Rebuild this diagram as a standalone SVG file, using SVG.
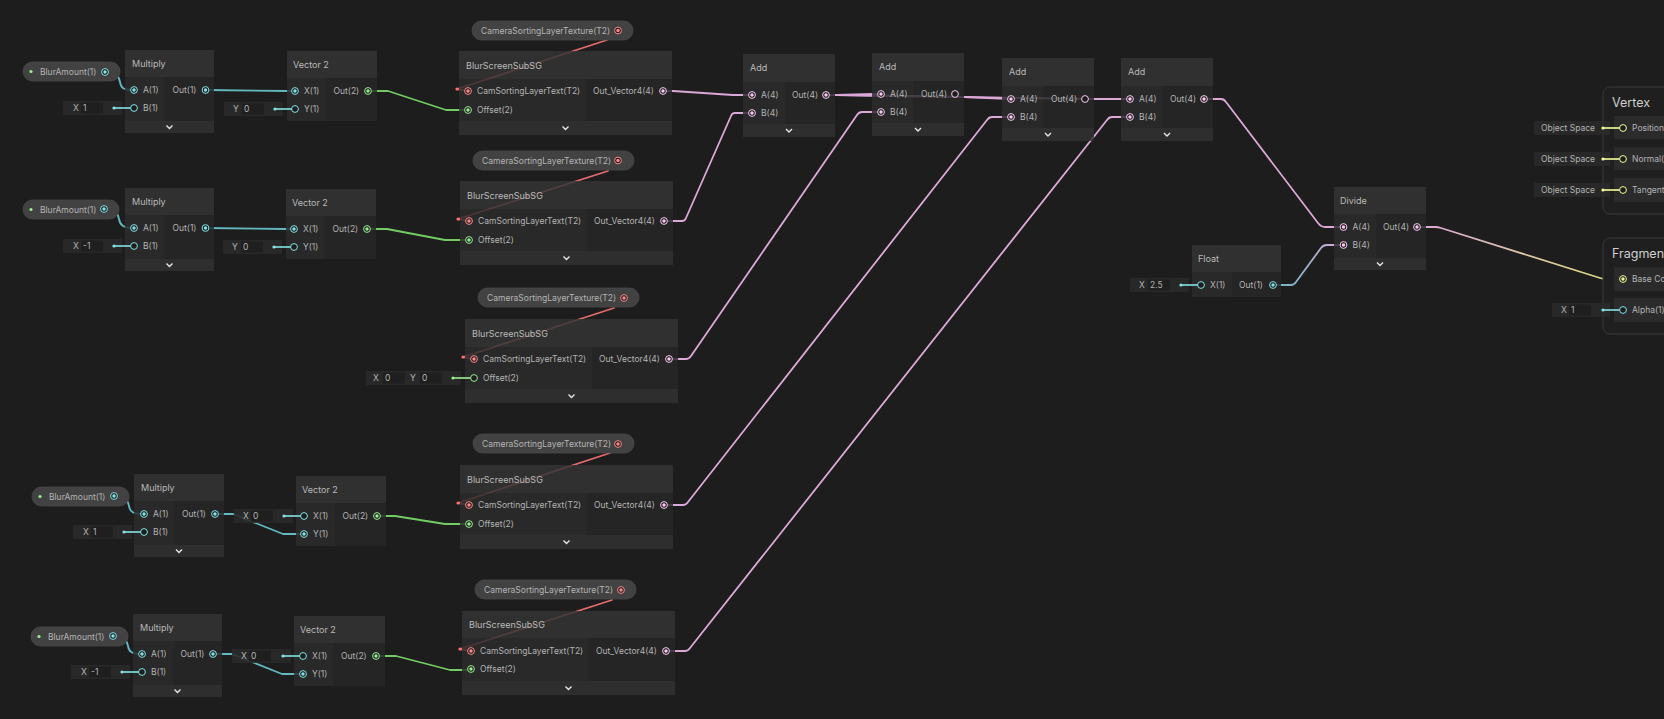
<svg xmlns="http://www.w3.org/2000/svg" width="1664" height="719" viewBox="0 0 1664 719">
<defs>
<style>
text{font-family:Inter,"Noto Sans","Liberation Sans",sans-serif;fill:#b4b4b4;font-size:8.5px}
.ti{font-size:9px;fill:#bababa}
.big{font-size:12.5px;fill:#cfcfcf}
.ttl{fill:#353535;fill-opacity:.84}
.in{fill:#2c2c2c;fill-opacity:.84}
.out{fill:#272727;fill-opacity:.84}
.ft{fill:#323232;fill-opacity:.84}
.pill{fill:#424242;stroke:#4a4a4a;stroke-width:.8}
.fld{fill:#2a2a2a;fill-opacity:.9}
.fin{fill:#1f1f1f}
.chev{fill:none;stroke:#e6e6e6;stroke-width:1.4}
.e{fill:none;stroke-width:1.8;stroke-linejoin:round;stroke-linecap:round}
.ec{stroke:#62b9c1}
.eg{stroke:#72cc63}
.ep{stroke:#dba8d7}
.er{stroke:#e56b6b}
.lc{stroke:#84e4e7;stroke-width:1.6}
.lg{stroke:#9aef92;stroke-width:1.6}
.ly{stroke:#f6ff9a;stroke-width:1.6}
.blk{fill:#1f1f1f;stroke:#3a3a3a;stroke-width:1}
.slot{fill:#2b2b2b}
</style>
<g id="pcc"><circle r="3.4" fill="#1d1d1d" stroke="#84e4e7" stroke-width="1"/><circle r="1.7" fill="#84e4e7"/></g>
<g id="pch"><circle r="3.4" fill="#1d1d1d" stroke="#84e4e7" stroke-width="1"/></g>
<g id="pgc"><circle r="3.4" fill="#1d1d1d" stroke="#9aef92" stroke-width="1"/><circle r="1.7" fill="#9aef92"/></g>
<g id="pgh"><circle r="3.4" fill="#1d1d1d" stroke="#9aef92" stroke-width="1"/></g>
<g id="ppc"><circle r="3.4" fill="#1d1d1d" stroke="#fbcbf4" stroke-width="1"/><circle r="1.7" fill="#fbcbf4"/></g>
<g id="pph"><circle r="3.4" fill="#1d1d1d" stroke="#fbcbf4" stroke-width="1"/></g>
<g id="prc"><circle r="3.4" fill="#1d1d1d" stroke="#ff8b8b" stroke-width="1"/><circle r="1.7" fill="#ff8b8b"/></g>
<g id="pyc"><circle r="3.4" fill="#1d1d1d" stroke="#f6ff9a" stroke-width="1"/><circle r="1.7" fill="#f6ff9a"/></g>
<g id="pyh"><circle r="3.4" fill="#1d1d1d" stroke="#f6ff9a" stroke-width="1"/></g>
<linearGradient id="gcp" gradientUnits="userSpaceOnUse" x1="1273" y1="0" x2="1343" y2="0"><stop offset="0" stop-color="#62b9c1"/><stop offset="1" stop-color="#dba8d7"/></linearGradient>
<linearGradient id="gpy" gradientUnits="userSpaceOnUse" x1="1417" y1="0" x2="1623" y2="0"><stop offset="0" stop-color="#dba8d7"/><stop offset="1" stop-color="#d9dc78"/></linearGradient>
</defs>
<rect width="1664" height="719" fill="#1d1d1d"/>

<g id="connectors">
<!-- row 1 -->
<path class="e ec" d="M105,72 C116,72 119,76 120,82 C121,88 123,90 134,90"/>
<path class="e ec" d="M206,90 L287,91 L295,91"/>
<path class="e eg" d="M368,91 L388,91 L446,110 L468,110"/>
<path class="e er" d="M607,40 L457,89 L468,91"/>
<circle cx="457" cy="89" r="1.6" fill="#ff7070"/>
<path class="e ep" d="M663,91 L673,91 L733,95 L752,95"/>
<!-- row 2 -->
<path class="e ec" d="M104,209 C115,209 118,213 119,219 C120,225 123,228 134,228"/>
<path class="e ec" d="M205,228 L286,229 L294,229"/>
<path class="e eg" d="M367,229 L387,229 L445,240 L469,240"/>
<path class="e er" d="M608,171 L458,219 L469,221"/>
<circle cx="458" cy="219" r="1.6" fill="#ff7070"/>
<path class="e ep" d="M664,221 L682,221 Q685,221 686,218 L731,116 Q732,113 735,113 L752,113"/>
<!-- row 3 -->
<path class="e er" d="M614,308 L463,357 L474,359"/>
<circle cx="463" cy="357" r="1.6" fill="#ff7070"/>
<path class="e ep" d="M669,359 L686,359 Q689,359 691,356 L857,115 Q859,112 862,112 L881,112"/>
<!-- row 4 -->
<path class="e ec" d="M114,496 C125,496 128,500 129,506 C130,512 133,514 144,514"/>
<path class="e ec" d="M215,514 L233,514 L283,534 L304,534"/>
<path class="e eg" d="M377,516 L395,516 L445,524 L469,524"/>
<path class="e er" d="M610,453 L458,503 L469,505"/>
<circle cx="458" cy="503" r="1.6" fill="#ff7070"/>
<path class="e ep" d="M664,505 L683,505 Q686,505 688,502 L987,120 Q989,117 992,117 L1011,117"/>
<!-- row 5 -->
<path class="e ec" d="M113,636 C124,636 127,640 128,646 C129,652 132,654 142,654"/>
<path class="e ec" d="M213,654 L232,654 L282,674 L303,674"/>
<path class="e eg" d="M376,656 L396,656 L450,670 L471,670"/>
<path class="e er" d="M612,600 L460,649 L471,651"/>
<circle cx="460" cy="649" r="1.6" fill="#ff7070"/>
<path class="e ep" d="M666,651 L685,651 Q688,651 690,648 L1107,120 Q1109,117 1112,117 L1130,117"/>
<!-- add chain -->
<path class="e ep" d="M826,95 L837,95 L873,94 L881,94"/>
<path class="e ep" d="M826,95 L837,95 L964,97 L1011,99"/>
<path class="e ep" d="M826,95 L837,95 L964,97 L1094,99 L1130,99"/>
<path class="e ep" d="M1204,99 L1221,99 Q1224,99 1226,102 L1318,223 Q1321,227 1325,227 L1343,227"/>
<path class="e" stroke="url(#gcp)" d="M1273,285 L1291,285 Q1294,285 1296,282 L1321,248 Q1323,245 1327,245 L1343,245"/>
<path class="e" stroke="url(#gpy)" d="M1417,227 L1435,227 Q1438,227 1441,228 L1600,278 Q1603,279 1606,279 L1623,279"/>
</g>

<!-- ===== Row 1 ===== -->
<g id="blurAmount1" transform="translate(23,62)">
<rect class="pill" width="97" height="19" rx="9.5"/>
<circle cx="8" cy="9.5" r="1.6" fill="#9aef92"/>
<text x="17" y="13">BlurAmount(1)</text>
<use href="#pcc" x="82" y="10"/>
</g>
<g id="multiply1" transform="translate(125,50)">
<rect class="ttl" width="89" height="27"/><rect class="in" y="27" width="40" height="44"/><rect class="out" x="40" y="27" width="49" height="44"/><rect class="ft" y="71" width="89" height="12"/>
<path class="chev" d="M41.5,75.5 L44.5,78.5 L47.5,75.5"/>
<text class="ti" x="7" y="17">Multiply</text>
<use href="#pcc" x="9" y="40"/><text x="18" y="43">A(1)</text>
<use href="#pch" x="9" y="58"/><text x="18" y="61">B(1)</text>
<text x="47.5" y="43">Out(1)</text><use href="#pcc" x="80.5" y="40"/>
<rect class="fld" x="-62" y="51" width="59" height="14"/><text x="-52" y="61">X</text><rect class="fin" x="-44" y="52.5" width="22" height="11"/><text x="-42" y="61">1</text>
<circle cx="-11" cy="58" r="1.6" fill="#84e4e7"/><line class="lc" x1="-11" y1="58" x2="5.6" y2="58"/>
</g>
<g id="vector2_1" transform="translate(287,51)">
<rect class="ttl" width="90" height="27"/><rect class="in" y="27" width="39" height="43"/><rect class="out" x="39" y="27" width="51" height="43"/>
<text class="ti" x="6" y="17">Vector 2</text>
<use href="#pcc" x="8" y="40"/><text x="17" y="43">X(1)</text>
<use href="#pch" x="8" y="58"/><text x="17" y="61">Y(1)</text>
<text x="46.5" y="43">Out(2)</text><use href="#pgc" x="81" y="40"/>
<rect class="fld" x="-63" y="51" width="59" height="14"/><text x="-54" y="61">Y</text><rect class="fin" x="-45" y="52.5" width="22" height="11"/><text x="-43" y="61">0</text>
<circle cx="-12" cy="58" r="1.6" fill="#84e4e7"/><line class="lc" x1="-12" y1="58" x2="4.6" y2="58"/>
</g>
<g id="camTex1" transform="translate(472,21)">
<rect class="pill" width="161" height="19" rx="9.5"/>
<text x="9" y="13">CameraSortingLayerTexture(T2)</text>
<use href="#prc" x="146" y="9.5"/>
</g>
<g id="blurScreen1" transform="translate(459,51)">
<rect class="ttl" width="213" height="28"/><rect class="in" y="28" width="127" height="42"/><rect class="out" x="127" y="28" width="86" height="42"/><rect class="ft" y="70" width="213" height="14"/>
<path class="chev" d="M103.5,75.5 L106.5,78.5 L109.5,75.5"/>
<text class="ti" x="7" y="18">BlurScreenSubSG</text>
<use href="#prc" x="9" y="40"/><text x="18" y="43">CamSortingLayerText(T2)</text>
<use href="#pgc" x="9" y="59"/><text x="18" y="62">Offset(2)</text>
<text x="134" y="43">Out_Vector4(4)</text><use href="#ppc" x="204" y="40"/>
</g>

<!-- ===== Row 2 ===== -->
<g id="blurAmount2" transform="translate(23,200)">
<rect class="pill" width="96" height="19" rx="9.5"/>
<circle cx="8" cy="9.5" r="1.6" fill="#9aef92"/>
<text x="17" y="13">BlurAmount(1)</text>
<use href="#pcc" x="81" y="9"/>
</g>
<g id="multiply2" transform="translate(125,188)">
<rect class="ttl" width="89" height="27"/><rect class="in" y="27" width="40" height="44"/><rect class="out" x="40" y="27" width="49" height="44"/><rect class="ft" y="71" width="89" height="12"/>
<path class="chev" d="M41.5,75.5 L44.5,78.5 L47.5,75.5"/>
<text class="ti" x="7" y="17">Multiply</text>
<use href="#pcc" x="9" y="40"/><text x="18" y="43">A(1)</text>
<use href="#pch" x="9" y="58"/><text x="18" y="61">B(1)</text>
<text x="47.5" y="43">Out(1)</text><use href="#pcc" x="80.5" y="40"/>
<rect class="fld" x="-62" y="51" width="59" height="14"/><text x="-52" y="61">X</text><rect class="fin" x="-44" y="52.5" width="22" height="11"/><text x="-42" y="61">-1</text>
<circle cx="-11" cy="58" r="1.6" fill="#84e4e7"/><line class="lc" x1="-11" y1="58" x2="5.6" y2="58"/>
</g>
<g id="vector2_2" transform="translate(286,189)">
<rect class="ttl" width="90" height="27"/><rect class="in" y="27" width="39" height="43"/><rect class="out" x="39" y="27" width="51" height="43"/>
<text class="ti" x="6" y="17">Vector 2</text>
<use href="#pcc" x="8" y="40"/><text x="17" y="43">X(1)</text>
<use href="#pch" x="8" y="58"/><text x="17" y="61">Y(1)</text>
<text x="46.5" y="43">Out(2)</text><use href="#pgc" x="81" y="40"/>
<rect class="fld" x="-63" y="51" width="59" height="14"/><text x="-54" y="61">Y</text><rect class="fin" x="-45" y="52.5" width="22" height="11"/><text x="-43" y="61">0</text>
<circle cx="-12" cy="58" r="1.6" fill="#84e4e7"/><line class="lc" x1="-12" y1="58" x2="4.6" y2="58"/>
</g>
<g id="camTex2" transform="translate(473,151)">
<rect class="pill" width="161" height="19" rx="9.5"/>
<text x="9" y="13">CameraSortingLayerTexture(T2)</text>
<use href="#prc" x="145" y="9.5"/>
</g>
<g id="blurScreen2" transform="translate(460,181)">
<rect class="ttl" width="213" height="28"/><rect class="in" y="28" width="127" height="42"/><rect class="out" x="127" y="28" width="86" height="42"/><rect class="ft" y="70" width="213" height="14"/>
<path class="chev" d="M103.5,75.5 L106.5,78.5 L109.5,75.5"/>
<text class="ti" x="7" y="18">BlurScreenSubSG</text>
<use href="#prc" x="9" y="40"/><text x="18" y="43">CamSortingLayerText(T2)</text>
<use href="#pgc" x="9" y="59"/><text x="18" y="62">Offset(2)</text>
<text x="134" y="43">Out_Vector4(4)</text><use href="#ppc" x="204" y="40"/>
</g>

<!-- ===== Row 3 ===== -->
<g id="camTex3" transform="translate(478,288)">
<rect class="pill" width="161" height="19" rx="9.5"/>
<text x="9" y="13">CameraSortingLayerTexture(T2)</text>
<use href="#prc" x="146" y="10"/>
</g>
<g id="blurScreen3" transform="translate(465,319)">
<rect class="ttl" width="213" height="28"/><rect class="in" y="28" width="127" height="42"/><rect class="out" x="127" y="28" width="86" height="42"/><rect class="ft" y="70" width="213" height="14"/>
<path class="chev" d="M103.5,75.5 L106.5,78.5 L109.5,75.5"/>
<text class="ti" x="7" y="18">BlurScreenSubSG</text>
<use href="#prc" x="9" y="40"/><text x="18" y="43">CamSortingLayerText(T2)</text>
<use href="#pgh" x="9" y="59"/><text x="18" y="62">Offset(2)</text>
<text x="134" y="43">Out_Vector4(4)</text><use href="#ppc" x="204" y="40"/>
<rect class="fld" x="-99" y="52" width="95" height="14"/>
<text x="-92" y="62">X</text><rect class="fin" x="-82" y="53.5" width="22" height="11"/><text x="-80" y="62">0</text>
<text x="-55" y="62">Y</text><rect class="fin" x="-45" y="53.5" width="22" height="11"/><text x="-43" y="62">0</text>
<circle cx="-12" cy="59" r="1.6" fill="#9aef92"/><line class="lg" x1="-12" y1="59" x2="5.6" y2="59"/>
</g>

<!-- ===== Row 4 ===== -->
<g id="blurAmount4" transform="translate(32,487)">
<rect class="pill" width="97" height="19" rx="9.5"/>
<circle cx="8" cy="9.5" r="1.6" fill="#9aef92"/>
<text x="17" y="13">BlurAmount(1)</text>
<use href="#pcc" x="82" y="9"/>
</g>
<g id="multiply4" transform="translate(134,474)">
<rect class="ttl" width="90" height="27"/><rect class="in" y="27" width="40" height="44"/><rect class="out" x="40" y="27" width="50" height="44"/><rect class="ft" y="71" width="90" height="12"/>
<path class="chev" d="M42,75.5 L45,78.5 L48,75.5"/>
<text class="ti" x="7" y="17">Multiply</text>
<use href="#pcc" x="10" y="40"/><text x="19" y="43">A(1)</text>
<use href="#pch" x="10" y="58"/><text x="19" y="61">B(1)</text>
<text x="48" y="43">Out(1)</text><use href="#pcc" x="81" y="40"/>
<rect class="fld" x="-61" y="51" width="59" height="14"/><text x="-51" y="61">X</text><rect class="fin" x="-43" y="52.5" width="22" height="11"/><text x="-41" y="61">1</text>
<circle cx="-10" cy="58" r="1.6" fill="#84e4e7"/><line class="lc" x1="-10" y1="58" x2="6.6" y2="58"/>
</g>
<g id="vector2_4" transform="translate(296,476)">
<rect class="ttl" width="90" height="27"/><rect class="in" y="27" width="39" height="43"/><rect class="out" x="39" y="27" width="51" height="43"/>
<text class="ti" x="6" y="17">Vector 2</text>
<use href="#pch" x="8" y="40"/><text x="17" y="43">X(1)</text>
<use href="#pcc" x="8" y="58"/><text x="17" y="61">Y(1)</text>
<text x="46.5" y="43">Out(2)</text><use href="#pgc" x="81" y="40"/>
<rect class="fld" x="-62" y="33" width="59" height="14"/><text x="-53" y="43">X</text><rect class="fin" x="-45" y="34.5" width="22" height="11"/><text x="-43" y="43">0</text>
<circle cx="-12" cy="40" r="1.6" fill="#84e4e7"/><line class="lc" x1="-12" y1="40" x2="4.6" y2="40"/>
</g>
<g id="camTex4" transform="translate(473,434)">
<rect class="pill" width="161" height="19" rx="9.5"/>
<text x="9" y="13">CameraSortingLayerTexture(T2)</text>
<use href="#prc" x="145" y="10"/>
</g>
<g id="blurScreen4" transform="translate(460,465)">
<rect class="ttl" width="213" height="28"/><rect class="in" y="28" width="127" height="42"/><rect class="out" x="127" y="28" width="86" height="42"/><rect class="ft" y="70" width="213" height="14"/>
<path class="chev" d="M103.5,75.5 L106.5,78.5 L109.5,75.5"/>
<text class="ti" x="7" y="18">BlurScreenSubSG</text>
<use href="#prc" x="9" y="40"/><text x="18" y="43">CamSortingLayerText(T2)</text>
<use href="#pgc" x="9" y="59"/><text x="18" y="62">Offset(2)</text>
<text x="134" y="43">Out_Vector4(4)</text><use href="#ppc" x="204" y="40"/>
</g>

<!-- ===== Row 5 ===== -->
<g id="blurAmount5" transform="translate(31,627)">
<rect class="pill" width="97" height="19" rx="9.5"/>
<circle cx="8" cy="9.5" r="1.6" fill="#9aef92"/>
<text x="17" y="13">BlurAmount(1)</text>
<use href="#pcc" x="82" y="9"/>
</g>
<g id="multiply5" transform="translate(133,614)">
<rect class="ttl" width="89" height="27"/><rect class="in" y="27" width="40" height="44"/><rect class="out" x="40" y="27" width="49" height="44"/><rect class="ft" y="71" width="89" height="12"/>
<path class="chev" d="M41.5,75.5 L44.5,78.5 L47.5,75.5"/>
<text class="ti" x="7" y="17">Multiply</text>
<use href="#pcc" x="9" y="40"/><text x="18" y="43">A(1)</text>
<use href="#pch" x="9" y="58"/><text x="18" y="61">B(1)</text>
<text x="47.5" y="43">Out(1)</text><use href="#pcc" x="80" y="40"/>
<rect class="fld" x="-62" y="51" width="59" height="14"/><text x="-52" y="61">X</text><rect class="fin" x="-44" y="52.5" width="22" height="11"/><text x="-42" y="61">-1</text>
<circle cx="-11" cy="58" r="1.6" fill="#84e4e7"/><line class="lc" x1="-11" y1="58" x2="5.6" y2="58"/>
</g>
<g id="vector2_5" transform="translate(294,616)">
<rect class="ttl" width="91" height="27"/><rect class="in" y="27" width="39" height="43"/><rect class="out" x="39" y="27" width="52" height="43"/>
<text class="ti" x="6" y="17">Vector 2</text>
<use href="#pch" x="9" y="40"/><text x="18" y="43">X(1)</text>
<use href="#pcc" x="9" y="58"/><text x="18" y="61">Y(1)</text>
<text x="47" y="43">Out(2)</text><use href="#pgc" x="82" y="40"/>
<rect class="fld" x="-62" y="33" width="59" height="14"/><text x="-53" y="43">X</text><rect class="fin" x="-45" y="34.5" width="22" height="11"/><text x="-43" y="43">0</text>
<circle cx="-11" cy="40" r="1.6" fill="#84e4e7"/><line class="lc" x1="-11" y1="40" x2="5.6" y2="40"/>
</g>
<g id="camTex5" transform="translate(475,580)">
<rect class="pill" width="161" height="19" rx="9.5"/>
<text x="9" y="13">CameraSortingLayerTexture(T2)</text>
<use href="#prc" x="146" y="10"/>
</g>
<g id="blurScreen5" transform="translate(462,611)">
<rect class="ttl" width="213" height="27"/><rect class="in" y="27" width="127" height="43"/><rect class="out" x="127" y="27" width="86" height="43"/><rect class="ft" y="70" width="213" height="14"/>
<path class="chev" d="M103.5,75.5 L106.5,78.5 L109.5,75.5"/>
<text class="ti" x="7" y="17">BlurScreenSubSG</text>
<use href="#prc" x="9" y="40"/><text x="18" y="43">CamSortingLayerText(T2)</text>
<use href="#pgc" x="9" y="58"/><text x="18" y="61">Offset(2)</text>
<text x="134" y="43">Out_Vector4(4)</text><use href="#ppc" x="204" y="40"/>
</g>

<!-- ===== Add chain ===== -->
<g id="add1" transform="translate(743,54)">
<rect class="ttl" width="92" height="28"/><rect class="in" y="28" width="42" height="42"/><rect class="out" x="42" y="28" width="50" height="42"/><rect class="ft" y="70" width="92" height="13"/>
<path class="chev" d="M43,75 L46,78 L49,75"/>
<text class="ti" x="7" y="17">Add</text>
<use href="#ppc" x="9" y="41"/><text x="18" y="44">A(4)</text>
<use href="#ppc" x="9" y="59"/><text x="18" y="62">B(4)</text>
<text x="49" y="44">Out(4)</text><use href="#ppc" x="83" y="41"/>
</g>
<g id="add2" transform="translate(872,53)">
<rect class="ttl" width="92" height="28"/><rect class="in" y="28" width="41" height="42"/><rect class="out" x="41" y="28" width="51" height="42"/><rect class="ft" y="70" width="92" height="13"/>
<path class="chev" d="M43,75 L46,78 L49,75"/>
<text class="ti" x="7" y="17">Add</text>
<use href="#ppc" x="9" y="41"/><text x="18" y="44">A(4)</text>
<use href="#ppc" x="9" y="59"/><text x="18" y="62">B(4)</text>
<text x="49" y="44">Out(4)</text><use href="#pph" x="83" y="41"/>
</g>
<g id="add3" transform="translate(1002,58)">
<rect class="ttl" width="92" height="28"/><rect class="in" y="28" width="41" height="42"/><rect class="out" x="41" y="28" width="51" height="42"/><rect class="ft" y="70" width="92" height="13"/>
<path class="chev" d="M43,75 L46,78 L49,75"/>
<text class="ti" x="7" y="17">Add</text>
<use href="#ppc" x="9" y="41"/><text x="18" y="44">A(4)</text>
<use href="#ppc" x="9" y="59"/><text x="18" y="62">B(4)</text>
<text x="49" y="44">Out(4)</text><use href="#pph" x="83" y="41"/>
</g>
<g id="add4" transform="translate(1121,58)">
<rect class="ttl" width="92" height="28"/><rect class="in" y="28" width="41" height="42"/><rect class="out" x="41" y="28" width="51" height="42"/><rect class="ft" y="70" width="92" height="13"/>
<path class="chev" d="M43,75 L46,78 L49,75"/>
<text class="ti" x="7" y="17">Add</text>
<use href="#ppc" x="9" y="41"/><text x="18" y="44">A(4)</text>
<use href="#ppc" x="9" y="59"/><text x="18" y="62">B(4)</text>
<text x="49" y="44">Out(4)</text><use href="#ppc" x="83" y="41"/>
</g>

<g id="float1" transform="translate(1192,245)">
<rect class="ttl" width="89" height="27"/><rect class="in" y="27" width="40" height="25"/><rect class="out" x="40" y="27" width="49" height="25"/>
<text class="ti" x="6" y="17">Float</text>
<use href="#pch" x="9" y="40"/><text x="18" y="43">X(1)</text>
<text x="47" y="43">Out(1)</text><use href="#pcc" x="81" y="40"/>
<rect class="fld" x="-62" y="33" width="59" height="14"/><text x="-53" y="43">X</text><rect class="fin" x="-44" y="34.5" width="22" height="11"/><text x="-42" y="43">2.5</text>
<circle cx="-11" cy="40" r="1.6" fill="#84e4e7"/><line class="lc" x1="-11" y1="40" x2="5.6" y2="40"/>
</g>

<g id="divide1" transform="translate(1334,187)">
<rect class="ttl" width="92" height="27"/><rect class="in" y="27" width="42" height="44"/><rect class="out" x="42" y="27" width="50" height="44"/><rect class="ft" y="71" width="92" height="12"/>
<path class="chev" d="M43,75.5 L46,78.5 L49,75.5"/>
<text class="ti" x="6" y="17">Divide</text>
<use href="#ppc" x="9.5" y="40"/><text x="18.5" y="43">A(4)</text>
<use href="#ppc" x="9.5" y="58"/><text x="18.5" y="61">B(4)</text>
<text x="49" y="43">Out(4)</text><use href="#ppc" x="83" y="40"/>
</g>

<!-- ===== Master stack ===== -->
<g id="vertex">
<rect class="blk" x="1603" y="87" width="100" height="127" rx="7"/>
<text class="big" x="1612" y="107">Vertex</text>
<rect class="slot" x="1614" y="116" width="60" height="23"/>
<rect class="slot" x="1614" y="147" width="60" height="23"/>
<rect class="slot" x="1614" y="178" width="60" height="24"/>
<rect class="fld" x="1534" y="121" width="76" height="14"/><text x="1541" y="131">Object Space</text>
<circle cx="1603" cy="128" r="1.6" fill="#f6ff9a"/><line class="ly" x1="1603" y1="128" x2="1619.6" y2="128"/><use href="#pyh" x="1623" y="128"/>
<text x="1632" y="131">Position</text>
<rect class="fld" x="1534" y="152" width="76" height="14"/><text x="1541" y="162">Object Space</text>
<circle cx="1603" cy="159" r="1.6" fill="#f6ff9a"/><line class="ly" x1="1603" y1="159" x2="1619.6" y2="159"/><use href="#pyh" x="1623" y="159"/>
<text x="1632" y="162">Normal(</text>
<rect class="fld" x="1534" y="183" width="76" height="14"/><text x="1541" y="193">Object Space</text>
<circle cx="1603" cy="190" r="1.6" fill="#f6ff9a"/><line class="ly" x1="1603" y1="190" x2="1619.6" y2="190"/><use href="#pyh" x="1623" y="190"/>
<text x="1632" y="193">Tangent</text>
</g>
<g id="fragment">
<rect class="blk" x="1603" y="238" width="100" height="96" rx="7"/>
<text class="big" x="1612" y="258">Fragment</text>
<rect class="slot" x="1614" y="267" width="60" height="24"/>
<rect class="slot" x="1614" y="298" width="60" height="24"/>
<use href="#pyc" x="1623" y="279"/>
<text x="1632" y="282">Base Co</text>
<rect class="fld" x="1552" y="303" width="58" height="14"/><text x="1561" y="313">X</text><rect class="fin" x="1569" y="304.5" width="22" height="11"/><text x="1571" y="313">1</text>
<circle cx="1603" cy="310" r="1.6" fill="#84e4e7"/><line class="lc" x1="1603" y1="310" x2="1619.6" y2="310"/><use href="#pch" x="1623" y="310"/>
<text x="1632" y="313">Alpha(1)</text>
</g>
</svg>
